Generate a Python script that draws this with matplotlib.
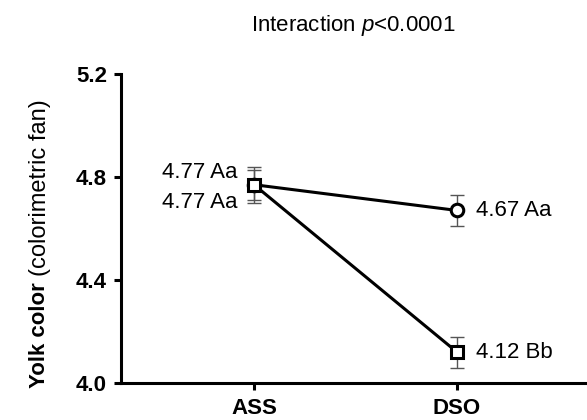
import matplotlib
matplotlib.use("Agg")
import matplotlib.pyplot as plt

plt.rcParams['font.family'] = ['Liberation Sans', 'DejaVu Sans']
plt.rcParams['mathtext.fontset'] = 'custom'
plt.rcParams['mathtext.rm'] = 'Liberation Sans'
plt.rcParams['mathtext.it'] = 'Liberation Sans:italic'

groups = ["ASS", "DSO"]
circle_mean = [4.77, 4.67]
circle_err = [0.07, 0.06]
circle_letters = ["Aa", "Aa"]
square_mean = [4.77, 4.12]
square_err = [0.058, 0.06]
square_letters = ["Aa", "Bb"]
yticks = [4.0, 4.4, 4.8, 5.2]

xs = list(range(len(groups)))

fig = plt.figure(figsize=(5.87, 4.2), dpi=100)
ax = fig.add_axes([0.206, 0.088, 0.794, 0.736])

# error bars (grey, thin)
ax.errorbar(xs, circle_mean, yerr=circle_err, fmt='none', ecolor='#555555',
            elinewidth=1, capsize=5, capthick=1, zorder=1)
ax.errorbar(xs, square_mean, yerr=square_err, fmt='none', ecolor='#555555',
            elinewidth=1, capsize=5, capthick=1, zorder=1)

ax.plot(xs, circle_mean, color='black', lw=2.2, marker='o', ms=9, mew=2.2,
        mfc='white', mec='black', zorder=3)
ax.plot(xs, square_mean, color='black', lw=2.2, marker='s', ms=9, mew=2.2,
        mfc='white', mec='black', zorder=4)

# value labels
fs = 16
ax.annotate(f"{circle_mean[0]:.2f} {circle_letters[0]}", (xs[0], circle_mean[0]),
            xytext=(-12, 8.5), textcoords='offset points', ha='right', va='center', fontsize=fs)
ax.annotate(f"{square_mean[0]:.2f} {square_letters[0]}", (xs[0], square_mean[0]),
            xytext=(-12, -13), textcoords='offset points', ha='right', va='center', fontsize=fs)
ax.annotate(f"{circle_mean[1]:.2f} {circle_letters[1]}", (xs[1], circle_mean[1]),
            xytext=(14, 0), textcoords='offset points', ha='left', va='center', fontsize=fs)
ax.annotate(f"{square_mean[1]:.2f} {square_letters[1]}", (xs[1], square_mean[1]),
            xytext=(14, 0), textcoords='offset points', ha='left', va='center', fontsize=fs)

ax.set_xlim(-0.655, 1.64)
ax.set_ylim(4.0, 5.2)
ax.set_yticks(yticks)
ax.set_yticklabels([f"{t:.1f}" for t in yticks], fontweight='bold', fontsize=fs)
ax.set_xticks(xs)
ax.set_xticklabels(groups, fontweight='bold', fontsize=fs)

for s in ['top', 'right']:
    ax.spines[s].set_visible(False)
for s in ['left', 'bottom']:
    ax.spines[s].set_linewidth(2.2)
ax.tick_params(axis='both', direction='out', length=5, width=2.2)
ax.tick_params(axis='y', pad=5)
ax.tick_params(axis='x', pad=6)

fig.text(0.068, 0.076, "Yolk color", rotation=90, ha='center', va='bottom',
         fontsize=fs, fontweight='bold')
fig.text(0.068, 0.343, "(colorimetric fan)", rotation=90, ha='center', va='bottom',
         fontsize=17)

fig.text(0.601, 0.94, "Interaction $p$<0.0001", ha='center', va='center', fontsize=fs)

fig.savefig("out.png", dpi=100)
